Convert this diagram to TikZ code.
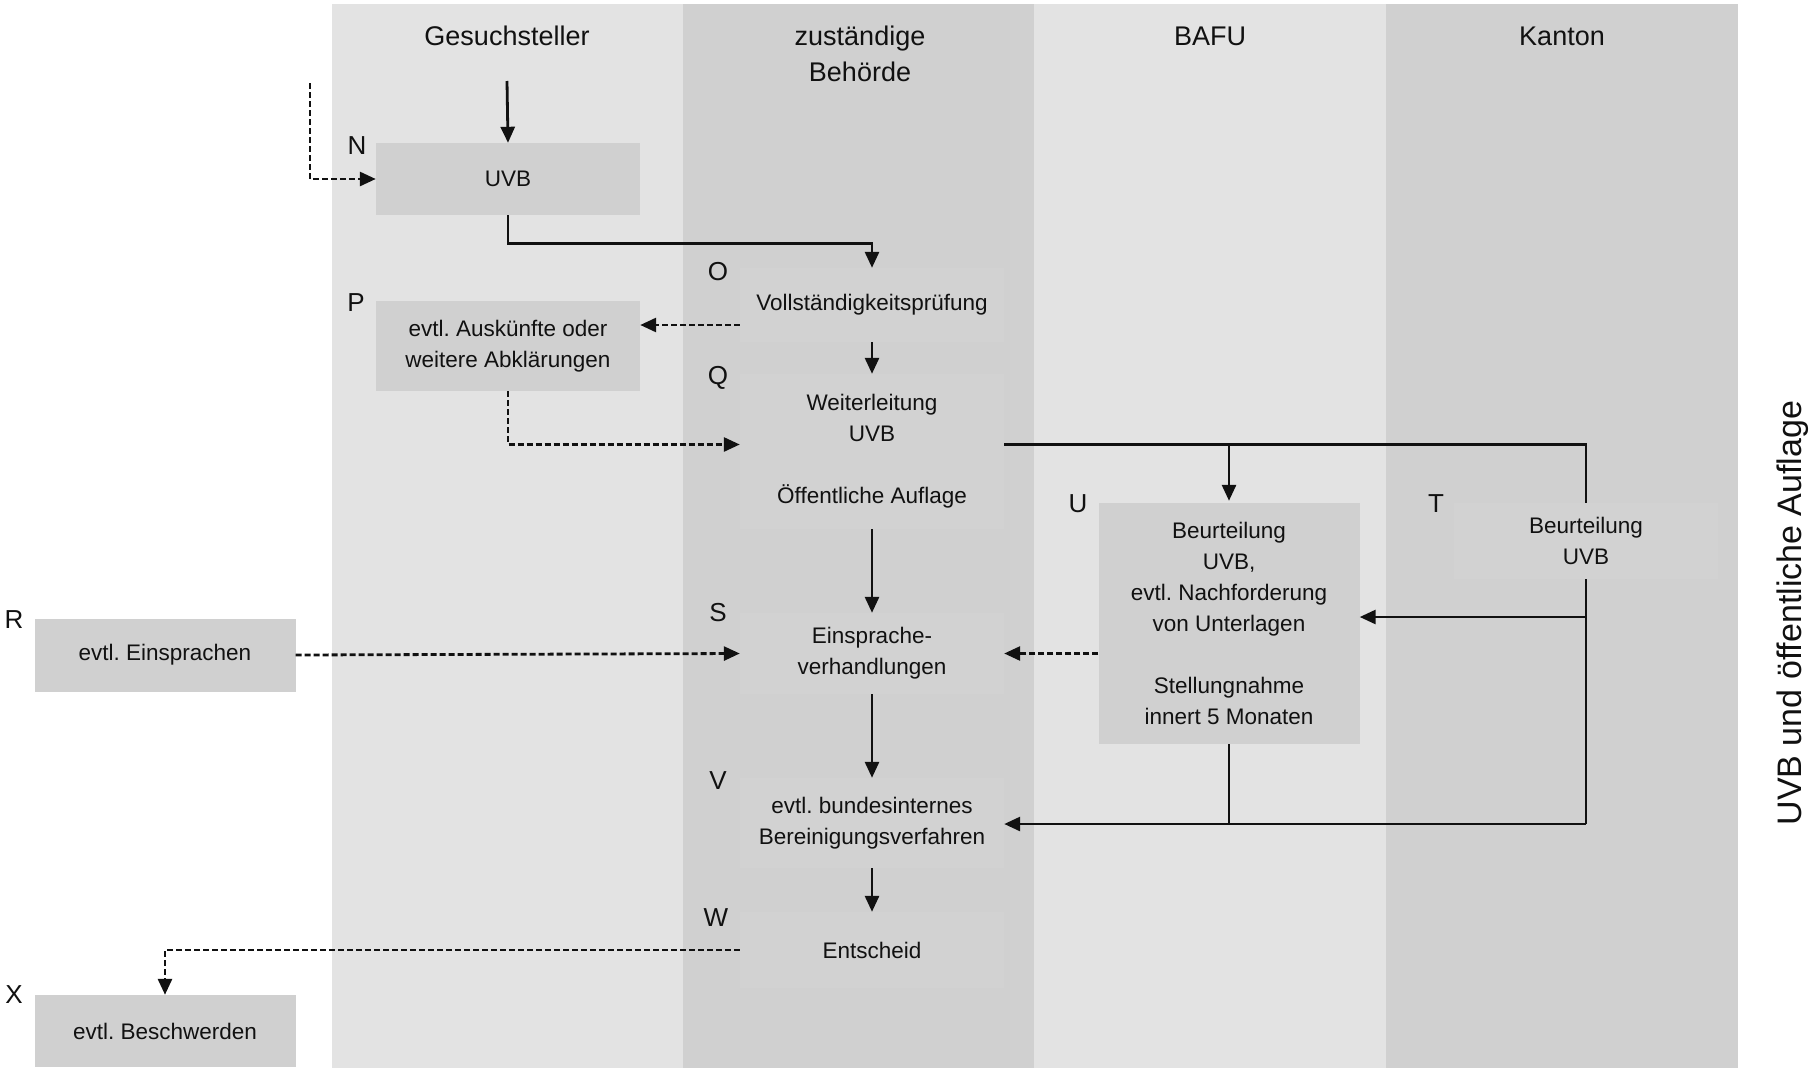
\documentclass[tikz,border=0pt]{standalone}
\usepackage{fontspec}
\setmainfont{Liberation Sans}
\usetikzlibrary{arrows.meta,calc}
\definecolor{lanelight}{HTML}{E3E3E3}
\definecolor{lanedark}{HTML}{D0D0D0}
\definecolor{boxgray}{HTML}{D0D0D0}
\definecolor{faintbox}{HTML}{D2D2D2}
\definecolor{ink}{HTML}{111111}
\tikzset{
  boxnode/.style={fill=boxgray, draw=none, minimum width=264pt, inner sep=0pt, align=center,
    font=\fontsize{22.5}{31}\selectfont, text=ink},
  plainnode/.style={fill=faintbox, draw=none, minimum width=264pt, inner sep=0pt, align=center,
    font=\fontsize{22.5}{31}\selectfont, text=ink},
  letter/.style={font=\fontsize{26}{30}\selectfont, text=ink, inner sep=0pt},
  header/.style={font=\fontsize{27}{36}\selectfont, text=ink, align=center, inner sep=0pt},
  conn/.style={line width=2.8pt, draw=ink},
  flow/.style={conn, -{Triangle[length=16pt,width=14pt]}},
  dflow/.style={flow, dash pattern=on 6pt off 3pt},
}
\begin{document}
\frenchspacing
\begin{tikzpicture}[x=1pt,y=-1pt]
\useasboundingbox (0,0) rectangle (1814,1068);
\fill[white] (0,0) rectangle (1814,1068);
% lanes
\fill[lanelight] (332,4) rectangle (683,1068);
\fill[lanedark] (683,4) rectangle (1034,1068);
\fill[lanelight] (1034,4) rectangle (1386,1068);
\fill[lanedark] (1386,4) rectangle (1738,1068);
% headers
\node[header] (h1) at (507,36) {Gesuchsteller};
\node[header] (h2) at (860,54) {zuständige\\Behörde};
\node[header] (h3) at (1210,36) {BAFU};
\node[header] (h4) at (1562,36) {Kanton};
\node[font=\fontsize{34}{40}\selectfont, text=ink, rotate=90, inner sep=0pt] (side) at (1793,613) {UVB und öffentliche Auflage};
% nodes
\node[boxnode, minimum height=72pt] (N) at (508,179) {UVB};
\node[plainnode, minimum height=74pt] (O) at (872,305) {Vollständigkeitsprüfung};
\node[boxnode, minimum height=90pt] (P) at (508,346) {evtl. Auskünfte oder\\weitere Abklärungen};
\node[plainnode, minimum height=155pt] (Q) at (872,451.5) {Weiterleitung\\UVB\\[31pt]Öffentliche Auflage};
\node[boxnode, minimum width=261pt, minimum height=73pt] (R) at (165,655) {evtl. Einsprachen};
\node[plainnode, minimum height=81pt] (S) at (872,653.5) {Einsprache-\\verhandlungen};
\node[plainnode, minimum height=76pt] (T) at (1586,541) {Beurteilung\\UVB};
\node[boxnode, minimum width=261pt, minimum height=241pt] (U) at (1229,623.5) {Beurteilung\\UVB,\\evtl. Nachforderung\\von Unterlagen\\[31pt]Stellungnahme\\innert 5 Monaten};
\node[plainnode, minimum height=90pt] (V) at (872,823) {evtl. bundesinternes\\Bereinigungsverfahren};
\node[plainnode, minimum height=76pt] (W) at (872,950) {Entscheid};
\node[boxnode, minimum width=261pt, minimum height=72pt] (X) at (165,1031) {evtl. Beschwerden};
% letters
\node[letter] (lN) at (357,146) {N};
\node[letter] (lO) at (718,272) {O};
\node[letter] (lP) at (356,303) {P};
\node[letter] (lQ) at (718,378) {Q};
\node[letter] (lR) at (14,620) {R};
\node[letter] (lS) at (718,613) {S};
\node[letter] (lT) at (1436,504) {T};
\node[letter] (lU) at (1078,504) {U};
\node[letter] (lV) at (718,781) {V};
\node[letter] (lW) at (716,918) {W};
\node[letter] (lX) at (14,995) {X};
% coordinates
\coordinate (nin) at (507,81);
\coordinate (nd) at (310,83);
\coordinate (qe) at ([yshift=7pt]Q.east);
\coordinate (qw) at ([yshift=7pt]Q.west);
\coordinate (tj) at (1586,617);
\coordinate (tb) at (1586,824);
% connectors
\draw[flow] (nin) -- (N.north);
\draw[dflow] (nd) |- (N.west);
\draw[flow] (N.south) -- ++(0,28) -| (O.north);
\draw[dflow] ([yshift=-20pt]O.west) -- ([yshift=21pt]P.east);
\draw[flow] (O.south) -- (Q.north);
\draw[dflow] (P.south) |- (qw);
\draw[conn] (qe) -| (T.north);
\draw[flow] (U.north |- qe) -- ([yshift=2pt]U.north);
\draw[flow] (Q.south) -- (S.north);
\draw[dflow] (R.east) -- (S.west);
\draw[dflow] (U.west |- S.east) -- (S.east);
\draw[conn] (T.south) -- (tb);
\draw[flow] (tj) -- (U.east |- tj);
\draw[conn] (U.south) -- (U.south |- tb);
\draw[flow] (tb) -- (V.east |- tb);
\draw[flow] (S.south) -- (V.north);
\draw[flow] (V.south) -- (W.north);
\draw[dflow] (W.west) -| (X.north);
\end{tikzpicture}
\end{document}
